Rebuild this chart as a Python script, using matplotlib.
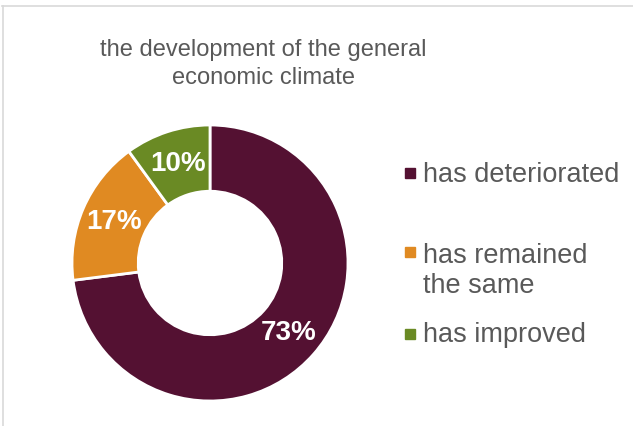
import matplotlib.pyplot as plt
from matplotlib.lines import Line2D
from matplotlib.patches import Rectangle

plt.rcParams['font.family'] = ['Liberation Sans', 'DejaVu Sans']

title = "the development of the general\neconomic climate"
labels = ["has deteriorated", "has remained\nthe same", "has improved"]
values = [73, 17, 10]
colors = ["#541132", "#E08A22", "#6A8A24"]
text_grey = "#595959"

fig = plt.figure(figsize=(6.33, 4.27), dpi=100)

# donut
ax = fig.add_axes([72 / 633, 25 / 427, 276 / 633, 276 / 427])
wedges, texts, autotexts = ax.pie(
    values, colors=colors, startangle=90, counterclock=False,
    radius=1, autopct="%d%%", pctdistance=0.76,
    wedgeprops=dict(width=0.48, edgecolor="white", linewidth=2),
    textprops=dict(color="white", fontsize=20, fontweight="bold"))
ax.set_xlim(-1, 1)
ax.set_ylim(-1, 1)
ax.set_aspect("equal")

# title (baseline of the last line)
fig.text(263 / 633, 1 - 84 / 427, title, ha="center", va="baseline",
         fontsize=17, color=text_grey, linespacing=1.38)

# legend drawn by hand so the marker sits on the first line of text
marker_y = [174, 253, 335]
text_base = [182, 293, 342]
for lab, col, my, ty in zip(labels, colors, marker_y, text_base):
    fig.add_artist(Rectangle((405 / 633, 1 - (my + 5) / 427), 10 / 633, 10 / 427,
                             transform=fig.transFigure, color=col))
    fig.text(423 / 633, 1 - ty / 427, lab, ha="left", va="baseline",
             fontsize=19.5, color=text_grey, linespacing=1.22)

# thin frame on top and left
fig.add_artist(Line2D([2 / 633, 1], [1 - 7 / 427] * 2, transform=fig.transFigure,
                      color="#d9d9d9", linewidth=1.2))
fig.add_artist(Line2D([2.5 / 633] * 2, [0, 1 - 7 / 427], transform=fig.transFigure,
                      color="#d9d9d9", linewidth=1.2))

fig.savefig("out.png", dpi=100)
